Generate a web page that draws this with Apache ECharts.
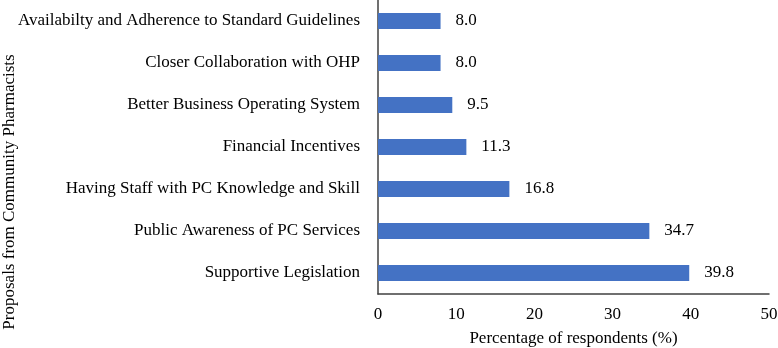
<!DOCTYPE html>
<html>
<head>
<meta charset="utf-8">
<script src="https://cdn.jsdelivr.net/npm/echarts@6/dist/echarts.min.js"></script>
<style>
  html, body { margin: 0; padding: 0; background: #fff; }
  #chart { width: 778px; height: 348px; }
</style>
</head>
<body>
<div id="chart"></div>
<script>
// top to bottom, as in the figure
const proposals = [
  'Availabilty and Adherence to Standard Guidelines',
  'Closer Collaboration with OHP',
  'Better Business Operating System',
  'Financial Incentives',
  'Having Staff with PC Knowledge and Skill',
  'Public Awareness of PC Services',
  'Supportive Legislation'
]
const percentages = [8.0, 8.0, 9.5, 11.3, 16.8, 34.7, 39.8]
const xTicks = [0, 10, 20, 30, 40, 50]

const font = '"Liberation Serif", "DejaVu Serif", serif'
const fs = 17
const chart = echarts.init(document.getElementById('chart'))

chart.setOption({
  animation: false,
  textStyle: { fontFamily: font, color: '#000' },
  grid: { left: 378, right: 9, top: 0, bottom: 54, outerBoundsMode: 'none' },
  xAxis: {
    type: 'value',
    min: xTicks[0],
    max: xTicks[xTicks.length - 1],
    interval: xTicks[1] - xTicks[0],
    name: 'Percentage of respondents (%)',
    nameLocation: 'middle',
    nameGap: 36,
    nameTextStyle: { fontFamily: font, fontSize: fs, color: '#000' },
    axisLine: { show: true, lineStyle: { color: '#404040', width: 1.5 } },
    axisTick: { show: false },
    axisLabel: { fontFamily: font, fontSize: fs, color: '#000', margin: 12 },
    splitLine: { show: false }
  },
  yAxis: {
    type: 'category',
    inverse: true,
    data: proposals,
    axisLine: { show: true, lineStyle: { color: '#404040', width: 1.5 } },
    axisTick: { show: false },
    axisLabel: { fontFamily: font, fontSize: fs, color: '#000', margin: 18 }
  },
  graphic: [{
    type: 'text',
    x: 1,
    y: 192,
    rotation: Math.PI / 2,
    style: {
      text: 'Proposals from Community Pharmacists',
      font: fs + 'px ' + font,
      fill: '#000',
      align: 'center',
      verticalAlign: 'top'
    }
  }],
  series: [{
    type: 'bar',
    data: percentages,
    barCategoryGap: '62%',
    itemStyle: { color: '#4472C4' },
    label: {
      show: true,
      position: 'right',
      distance: 15,
      fontFamily: font,
      fontSize: fs,
      color: '#000',
      formatter: (p) => p.value.toFixed(1)
    }
  }]
})
</script>
</body>
</html>
